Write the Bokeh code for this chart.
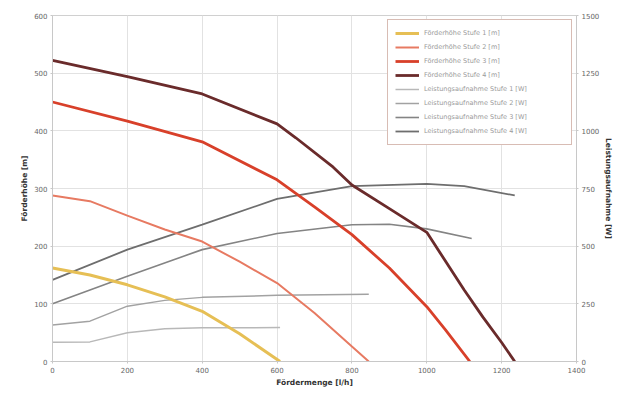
from bokeh.plotting import figure
from bokeh.models import Range1d, LinearAxis, Legend, LegendItem, FixedTicker
from bokeh.embed import file_html
from bokeh.resources import INLINE

# Förderhöhe (left axis)
h1_x = [0, 100, 200, 300, 400, 500, 608]
h1_y = [162, 150, 133, 112, 87, 48, 0]
h2_x = [0, 100, 200, 300, 400, 500, 600, 700, 800, 845]
h2_y = [288, 278, 253, 229, 208, 173, 136, 84, 26, 0]
h3_x = [0, 200, 400, 600, 700, 800, 900, 1000, 1050, 1115]
h3_y = [450, 417, 381, 315, 268, 220, 162, 95, 55, 0]
h4_x = [0, 200, 400, 600, 650, 750, 800, 900, 1000, 1100, 1150, 1200, 1235]
h4_y = [522, 494, 464, 412, 388, 337, 306, 265, 224, 124, 77, 33, 0]

# Leistungsaufnahme (right axis)
p1_x = [0, 100, 200, 300, 400, 608]
p1_y = [83, 85, 125, 142, 146, 147]
p2_x = [0, 100, 200, 300, 400, 600, 845]
p2_y = [158, 175, 240, 265, 278, 287, 292]
p3_x = [0, 200, 400, 600, 800, 900, 1000, 1120]
p3_y = [250, 370, 485, 555, 593, 595, 575, 533]
p4_x = [0, 200, 400, 600, 800, 1000, 1100, 1235]
p4_y = [354, 485, 593, 705, 760, 770, 760, 720]

x_ticks = [0, 200, 400, 600, 800, 1000, 1200, 1400]
y_ticks = [0, 100, 200, 300, 400, 500, 600]
p_ticks = [0, 250, 500, 750, 1000, 1250, 1500]

labels = [
    "Förderhöhe Stufe 1 [m]", "Förderhöhe Stufe 2 [m]",
    "Förderhöhe Stufe 3 [m]", "Förderhöhe Stufe 4 [m]",
    "Leistungsaufnahme Stufe 1 [W]", "Leistungsaufnahme Stufe 2 [W]",
    "Leistungsaufnahme Stufe 3 [W]", "Leistungsaufnahme Stufe 4 [W]",
]

p = figure(width=616, height=389, output_backend="svg", toolbar_location=None,
           x_range=Range1d(0, 1400), y_range=Range1d(0, 600),
           min_border_left=52, min_border_right=0, min_border_top=15, min_border_bottom=0)
p.extra_y_ranges = {"pw": Range1d(0, 1500)}

p.background_fill_color = "white"
p.outline_line_color = "#d0d0d0"
p.xgrid.grid_line_color = "#e2e2e2"
p.ygrid.grid_line_color = "#e2e2e2"
p.xaxis.ticker = FixedTicker(ticks=x_ticks)
p.yaxis.ticker = FixedTicker(ticks=y_ticks)

ax_r = LinearAxis(y_range_name="pw", ticker=FixedTicker(ticks=p_ticks),
                  axis_label="Leistungsaufnahme [W]")
p.add_layout(ax_r, "right")

p.xaxis.axis_label = "Fördermenge [l/h]"
p.yaxis[0].axis_label = "Förderhöhe [m]"

for ax in [p.xaxis[0], p.yaxis[0], ax_r]:
    ax.axis_line_color = "#c8c8c8"
    ax.major_tick_line_color = "#c8c8c8"
    ax.minor_tick_line_color = None
    ax.major_tick_in = 0
    ax.major_tick_out = 2
    ax.major_label_text_font = "DejaVu Sans"
    ax.major_label_text_font_size = "7px"
    ax.major_label_text_color = "#666666"
    ax.major_label_standoff = 3
    ax.axis_label_text_font = "DejaVu Sans"
    ax.axis_label_text_font_size = "7.5px"
    ax.axis_label_text_font_style = "bold"
    ax.axis_label_text_color = "#333333"
    ax.axis_label_standoff = 2

series = [
    (p4_x, p4_y, "#6e6e6e", 1.8, "pw"),
    (p3_x, p3_y, "#848484", 1.6, "pw"),
    (p2_x, p2_y, "#a2a2a2", 1.5, "pw"),
    (p1_x, p1_y, "#b8b8b8", 1.5, "pw"),
    (h1_x, h1_y, "#e6bf55", 3.0, "default"),
    (h2_x, h2_y, "#e77a62", 2.0, "default"),
    (h3_x, h3_y, "#d8402a", 2.8, "default"),
    (h4_x, h4_y, "#6a2b2b", 2.8, "default"),
]
renderers = {}
for i, (xs, ys, col, w, rn) in enumerate(series):
    r = p.line(xs, ys, line_color=col, line_width=w, y_range_name=rn)
    renderers[i] = r

order = [4, 5, 6, 7, 3, 2, 1, 0]
items = [LegendItem(label=labels[k], renderers=[renderers[idx]]) for k, idx in enumerate(order)]
legend = Legend(items=items, location="top_right", margin=4, padding=7, spacing=2,
                label_width=140, label_height=12, glyph_height=12, glyph_width=24,
                label_text_font="DejaVu Sans", label_text_font_size="6.5px",
                label_text_color="#9a9a9a", border_line_color="#b27a6a",
                border_line_width=1.5, background_fill_alpha=1.0)
p.add_layout(legend)

open("out.html", "w").write(file_html(p, INLINE))
